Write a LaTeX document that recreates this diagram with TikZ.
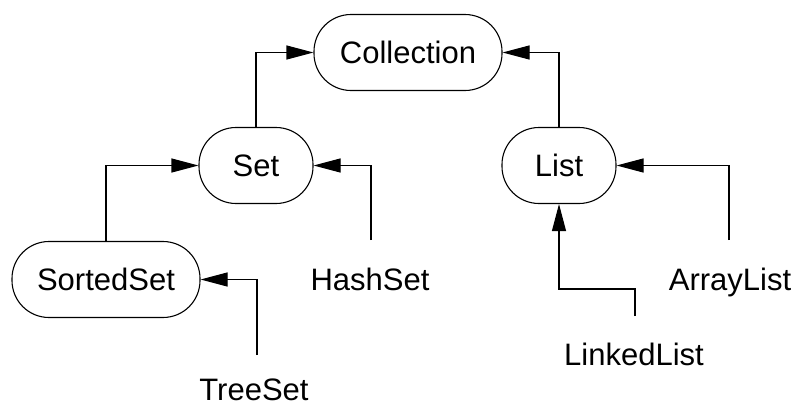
\documentclass[tikz,border=0pt]{standalone}
\usepackage{fontspec}
\setmainfont{Liberation Sans}
\usetikzlibrary{arrows.meta}

\begin{document}
\begin{tikzpicture}[x=1pt,y=-1pt,
  line width=1.1pt,
  iface/.style={draw, rounded corners=37pt, minimum height=76pt,
    inner sep=0pt, font=\fontsize{31}{36}\selectfont},
  cls/.style={anchor=base, inner sep=0pt, font=\fontsize{31}{36}\selectfont},
  inherit/.style={-{Triangle[length=27pt,width=14pt]}}]
  \path[use as bounding box] (0,0) rectangle (796,405);

  % interfaces
  \node[iface, minimum width=188pt] (coll) at (408,52.5) {Collection};
  \node[iface, minimum width=114pt] (set) at (256,165.5) {Set};
  \node[iface, minimum width=114pt] (list) at (559,165.5) {List};
  \node[iface, minimum width=188pt] (sorted) at (106,279.5) {SortedSet};

  % concrete classes
  \node[cls] (hashset) at (370,290) {HashSet};
  \node[cls] (arraylist) at (730,290) {ArrayList};
  \node[cls] (linkedlist) at (634,365) {LinkedList};
  \node[cls] (treeset) at (254,400) {TreeSet};

  % connector ends above the class names
  \coordinate (hsEnd) at (371,240);
  \coordinate (alEnd) at (729,240);
  \coordinate (llEnd) at (635,316);
  \coordinate (tsEnd) at (257,355);

  % inheritance arrows
  \draw[inherit] (set.north) |- (coll.west);
  \draw[inherit] (list.north) |- (coll.east);
  \draw[inherit] (sorted.north) |- (set.west);
  \draw[inherit] (hsEnd) |- (set.east);
  \draw[inherit] (tsEnd) |- (sorted.east);
  \draw[inherit] (alEnd) |- (list.east);
  \draw[inherit] (llEnd) -- ++(0,-27) -| (list.south);
\end{tikzpicture}
\end{document}
